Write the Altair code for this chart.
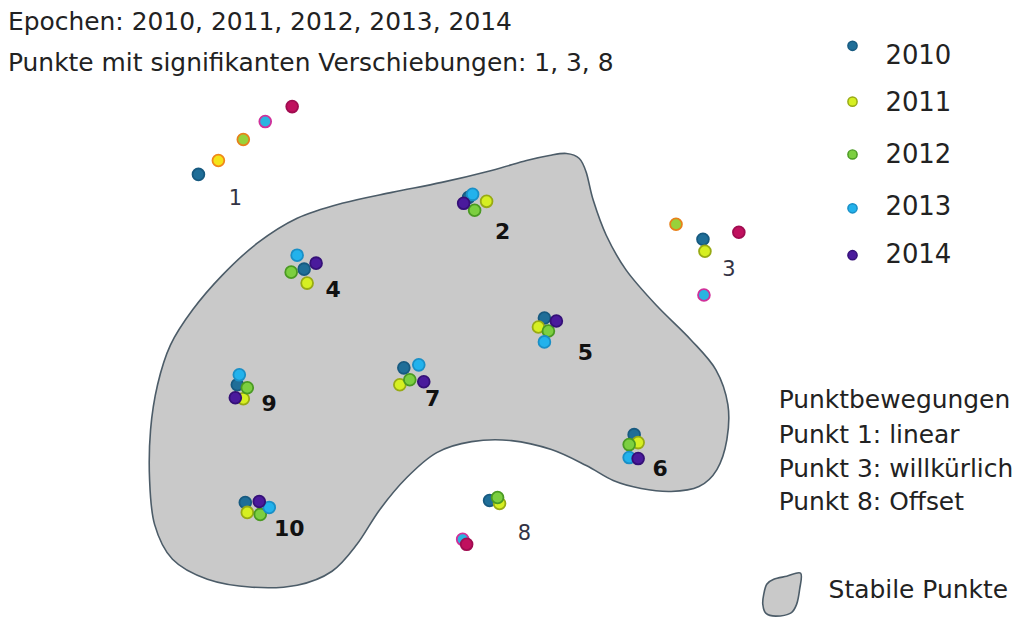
import altair as alt
import pandas as pd

# ---------------- data (image pixel coordinates of the schematic) ----------------
years = ["2010", "2011", "2012", "2013", "2014"]

# point clusters: x, y per epoch and colour key
p1_x = [196, 216, 241, 263, 290]
p1_y = [174, 160, 139, 121, 106]
p1_k = ["2010", "2011o", "2012o", "2013m", "2014m"]

p2_x = [467, 485, 473, 471, 462]
p2_y = [197, 201, 210, 194, 203]

p3_x = [702, 704, 675, 703, 738]
p3_y = [239, 251, 224, 295, 232]
p3_k = ["2010", "2011", "2012o", "2013m", "2014m"]

p4_x = [302, 305, 289, 295, 314]
p4_y = [269, 283, 272, 255, 263]

p5_x = [543, 537, 547, 543, 555]
p5_y = [318, 327, 331, 342, 321]

p6_x = [633, 637, 628, 628, 637]
p6_y = [435, 443, 445, 458, 459]

p7_x = [402, 398, 408, 417, 422]
p7_y = [368, 385, 380, 365, 382]

p8_x = [488, 498, 496, 461, 465]
p8_y = [501, 504, 498, 540, 545]
p8_k = ["2010", "2011", "2012", "2013m", "2014m"]

p9_x = [235, 241, 245, 237, 233]
p9_y = [385, 399, 388, 375, 398]

p10_x = [243, 245, 258, 267, 257]
p10_y = [503, 513, 515, 508, 502]

# point labels
lab_bold = ["2", "4", "5", "6", "7", "9", "10"]
lab_bold_x = [501, 331, 584, 659, 431, 267, 287]
lab_bold_y = [232, 290, 353, 469, 399, 404, 530]
lab_reg = ["1", "3", "8"]
lab_reg_x = [233, 728, 523]
lab_reg_y = [199, 270, 535]

# outline of the stable area
blob_x = [548, 565, 578, 585, 592, 605, 625, 655, 690, 715, 727, 726, 716, 698, 670,
          640, 612, 585, 550, 510, 470, 435, 405, 378, 355, 330, 295, 250, 205, 170,
          152, 147, 148, 155, 168, 190, 220, 255, 295, 340, 390, 440, 490, 525]
blob_y = [155, 153, 158, 172, 200, 235, 270, 305, 340, 370, 405, 440, 470, 487, 492,
          489, 481, 466, 450, 441, 442, 453, 478, 510, 545, 572, 586, 588, 580, 560,
          525, 480, 430, 385, 345, 310, 275, 243, 218, 203, 192, 182, 170, 160]

# legend icon outline
icon_x = [763, 766, 773, 786, 800, 799, 796, 790, 775, 765, 762]
icon_y = [595, 585, 580, 577, 574, 590, 605, 614, 617, 614, 605]

# legend entries
leg_x = [852, 852, 852, 852, 852]
leg_y = [45, 101, 154, 208, 255]
leg_tx = [885, 885, 885, 885, 885]
leg_ty = [55, 102, 155, 207, 255]

# text annotations
head = ["Epochen: 2010, 2011, 2012, 2013, 2014",
        "Punkte mit signifikanten Verschiebungen: 1, 3, 8"]
head_x = [5, 5]
head_y = [21, 62]
side = ["Punktbewegungen", "Punkt 1: linear", "Punkt 3: willkürlich", "Punkt 8: Offset"]
side_x = [778, 778, 778, 778]
side_y = [400, 435, 469, 503]
stab = ["Stabile Punkte"]
stab_x = [828]
stab_y = [591]

# colour keys
keys = ["2010", "2011", "2012", "2013", "2014", "2011o", "2012o", "2013m", "2014m"]
fills = ["#1f6e98", "#d6ef22", "#7ccf40", "#22b2ec", "#4a1a9c", "#f4e418", "#98d23a", "#2ab4e0", "#c0105e"]
strokes = ["#175a80", "#98aa14", "#4a9a22", "#1a8fc6", "#351078", "#f0881a", "#e8801a", "#d0309a", "#a00c50"]

# ---------------- build tables ----------------
rows = []
for xs_, ys_, ks_ in [
    (p1_x, p1_y, p1_k), (p2_x, p2_y, years), (p3_x, p3_y, p3_k), (p4_x, p4_y, years),
    (p5_x, p5_y, years), (p6_x, p6_y, years), (p7_x, p7_y, years), (p8_x, p8_y, p8_k),
    (p9_x, p9_y, years), (p10_x, p10_y, years)]:
    for xv, yv, kv in zip(xs_, ys_, ks_):
        rows.append({"x": xv, "y": yv, "k": kv})
pts = pd.DataFrame(rows)

blob = pd.DataFrame({"x": blob_x, "y": blob_y, "i": range(len(blob_x))})
icon = pd.DataFrame({"x": icon_x, "y": icon_y, "i": range(len(icon_x))})
leg = pd.DataFrame({"x": leg_x, "y": leg_y, "k": years})
legt = pd.DataFrame({"x": leg_tx, "y": leg_ty, "t": years})
lb = pd.DataFrame({"x": lab_bold_x, "y": lab_bold_y, "t": lab_bold})
lr = pd.DataFrame({"x": lab_reg_x, "y": lab_reg_y, "t": lab_reg})
hd = pd.DataFrame({"x": head_x, "y": head_y, "t": head})
sd = pd.DataFrame({"x": side_x, "y": side_y, "t": side})
st = pd.DataFrame({"x": stab_x, "y": stab_y, "t": stab})

X = alt.X("x:Q", scale=alt.Scale(domain=[8, 1023], nice=False, zero=False), axis=None)
Y = alt.Y("y:Q", scale=alt.Scale(domain=[8, 613], nice=False, zero=False, reverse=True), axis=None)
FILL = alt.Fill("k:N", scale=alt.Scale(domain=keys, range=fills), legend=None)
STROKE = alt.Stroke("k:N", scale=alt.Scale(domain=keys, range=strokes), legend=None)

FONT = "DejaVu Sans"

blob_l = alt.Chart(blob).mark_line(
    interpolate="cardinal-closed", fill="#c9c9c9", stroke="#4c5c68", strokeWidth=1.6
).encode(x=X, y=Y, order="i:Q")

icon_l = alt.Chart(icon).mark_line(
    interpolate="cardinal-closed", fill="#c9c9c9", stroke="#4c5c68", strokeWidth=1.6
).encode(x=X, y=Y, order="i:Q")

pts_l = alt.Chart(pts).mark_point(filled=True, size=140, strokeWidth=1.8, opacity=1).encode(
    x=X, y=Y, fill=FILL, stroke=STROKE)

leg_l = alt.Chart(leg).mark_point(filled=True, size=85, strokeWidth=1.5, opacity=1).encode(
    x=X, y=Y, fill=FILL, stroke=STROKE)

def txt(df, size, color="#222222", weight="normal", align="left"):
    return alt.Chart(df).mark_text(
        font=FONT, fontSize=size, color=color, fontWeight=weight, align=align, baseline="middle"
    ).encode(x=X, y=Y, text="t:N")

chart = alt.layer(
    blob_l, icon_l, pts_l, leg_l,
    txt(legt, 26),
    txt(lb, 22, "#111111", "bold", "center"),
    txt(lr, 21, "#333344", "normal", "center"),
    txt(hd, 25),
    txt(sd, 25),
    txt(st, 25),
).properties(width=1015, height=605, padding=0).configure_view(stroke=None)

chart.save("out.html", embed_options={"renderer": "svg", "actions": False})
